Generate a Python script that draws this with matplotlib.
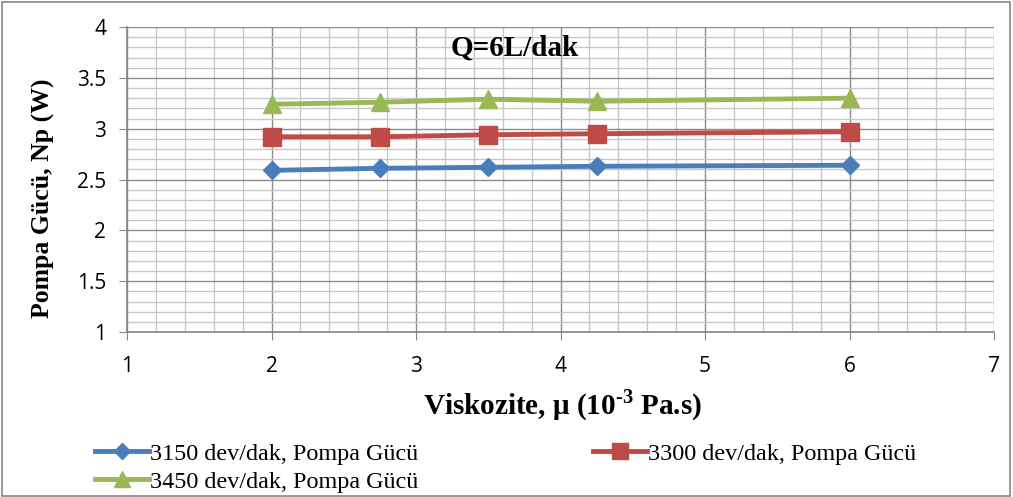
import numpy as np
import matplotlib
matplotlib.use('Agg')
import matplotlib.pyplot as plt
from matplotlib.ticker import MultipleLocator

# viskozite degerleri ve pompa gucleri
viskozite = [2, 2.75, 3.5, 4.25, 6]
np_3150 = [2.59, 2.61, 2.62, 2.63, 2.64]
np_3300 = [2.92, 2.92, 2.94, 2.95, 2.97]
np_3450 = [3.24, 3.26, 3.29, 3.27, 3.30]
etiketler = ['3150 dev/dak, Pompa Gücü', '3300 dev/dak, Pompa Gücü', '3450 dev/dak, Pompa Gücü']

plt.rcParams['mathtext.fontset'] = 'custom'
plt.rcParams['mathtext.rm'] = 'Liberation Serif:bold'
plt.rcParams['mathtext.bf'] = 'Liberation Serif:bold'

fig = plt.figure(figsize=(10.13, 4.97), dpi=100)
ax = fig.add_axes([127/1013, 1-332/497, (994-127)/1013, (332-27)/497])

l1, = ax.plot(viskozite, np_3150, color='#4a7ebb', marker='D', markersize=9.5, linewidth=3.5, label=etiketler[0])
l2, = ax.plot(viskozite, np_3300, color='#be4b48', marker='s', markersize=12.5, linewidth=3.5, label=etiketler[1])
l3, = ax.plot(viskozite, np_3450, color='#98b954', marker='^', markersize=13, linewidth=3.5, label=etiketler[2])

ax.set_xlim(1, 7)
ax.set_ylim(1, 4)
ax.xaxis.set_major_locator(MultipleLocator(1))
ax.xaxis.set_minor_locator(MultipleLocator(0.2))
ax.yaxis.set_major_locator(MultipleLocator(0.5))
ax.yaxis.set_minor_locator(MultipleLocator(0.1))
ax.set_yticks(np.arange(1, 4.01, 0.5))
ax.set_yticklabels(['1', '1.5', '2', '2.5', '3', '3.5', '4'])
ax.grid(which='major', color='#8c8c8c', linewidth=1.0)
ax.grid(which='minor', color='#c8c8c8', linewidth=1.0)
ax.set_axisbelow(True)
for s in ['top', 'right']:
    ax.spines[s].set_visible(False)
for s in ['left', 'bottom']:
    ax.spines[s].set_color('#868686')
    ax.spines[s].set_linewidth(1.2)
ax.tick_params(which='major', length=6, color='#868686', labelsize=15)
ax.tick_params(axis='x', pad=11)
ax.tick_params(axis='y', pad=9)
ax.tick_params(which='minor', length=0)
for lab in ax.get_xticklabels() + ax.get_yticklabels():
    lab.set_fontfamily('Open Sans')

ax.set_ylabel('Pompa Gücü, Np (W)', fontfamily='Liberation Serif', fontweight='bold', fontsize=18.5)
ax.yaxis.set_label_coords(-(127-43)/867, (332-198)/305)
ax.yaxis.label.set_va('center')
ax.set_xlabel('Viskozite, μ (10$^{\\text{-3}}$ Pa.s)', fontfamily='Liberation Serif', fontweight='bold', fontsize=21)
ax.xaxis.set_label_coords((562-127)/867, -(405-332)/305)
ax.xaxis.label.set_va('center')
ax.text(3.24, 3.79, 'Q=6L/dak', fontfamily='Liberation Serif',
        fontweight='bold', fontsize=21, ha='left', va='center')

# legend satir satir: 3150 ve 3300 ust satirda
fig.legend([l1, l3, l2], [etiketler[0], etiketler[2], etiketler[1]],
           loc='upper left', bbox_to_anchor=(85/1013, 1-433/497), ncol=2, frameon=False,
           prop={'family': 'Liberation Serif', 'size': 17.4}, handlelength=2.25,
           columnspacing=7.2, labelspacing=0.25, handletextpad=0.05, borderaxespad=0,
           markerscale=0.9)

fig.patches.append(plt.Rectangle((0.002, 0.003), 0.995, 0.993, transform=fig.transFigure,
                                 fill=False, edgecolor='#868686', linewidth=1.2))

fig.savefig('out.png', dpi=100)
